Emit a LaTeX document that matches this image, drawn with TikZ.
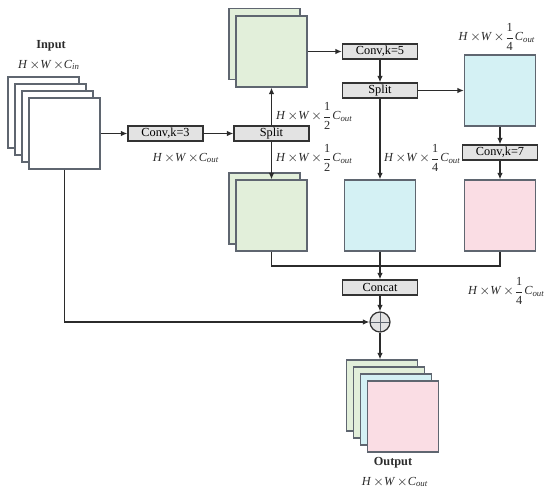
\documentclass[tikz,border=0pt]{standalone}
\usepackage{fontspec}
\setmainfont{Liberation Serif}
\usepackage{amsmath}
\usetikzlibrary{arrows.meta}
\definecolor{fmline}{HTML}{5F6670}
\definecolor{fmgreen}{HTML}{E2EFDA}
\definecolor{fmcyan}{HTML}{D4F1F4}
\definecolor{fmpink}{HTML}{FADDE4}
\definecolor{opfill}{HTML}{E3E3E3}
\definecolor{opline}{HTML}{333333}
\definecolor{ink}{HTML}{2B2B2B}
\newcommand{\dimlbl}[2]{$\textit{H}\,{\times}\textit{W}\,{\times}#1\textit{C}_{\textit{#2}}$}
\newcommand{\partof}[1]{\dfrac{\text{1}}{\text{#1}}}

\begin{document}
\begin{tikzpicture}[
    x=0.02cm, y=-0.02cm,
    every node/.style={font=\scriptsize},
    fmap/.style={rectangle, draw=fmline, line width=0.7pt, minimum width=1.42cm,
                 minimum height=1.42cm, inner sep=0pt},
    op/.style={rectangle, draw=opline, fill=opfill, line width=0.7pt, minimum width=1.5cm,
               minimum height=0.3cm, inner sep=0pt, font=\scriptsize},
    sum/.style={circle, draw=opline, fill=opfill, line width=0.7pt, minimum size=0.4cm, inner sep=0pt,
                path picture={\draw[fmline, line width=0.4pt]
                  (path picture bounding box.north) -- (path picture bounding box.south)
                  (path picture bounding box.west) -- (path picture bounding box.east);}},
    flow/.style={-{Latex[length=1.3mm, width=1.1mm]}, color=ink, line width=0.7pt},
    link/.style={color=ink, line width=0.7pt},
    lbl/.style={font=\scriptsize, color=ink, inner sep=1pt},
    head/.style={font=\scriptsize\bfseries, color=ink},
  ]
  \useasboundingbox (0,0) rectangle (550,500);

  \node[head] (inhead) at (51,46) {Input};
  \node[lbl]  (indim) at (49,65) {\dimlbl{}{in}};
  \node[fmap, fill=white] (in1) at (43.5,112.5) {};
  \node[fmap, fill=white] (in2) at (50.5,119.5) {};
  \node[fmap, fill=white] (in3) at (57.5,126.5) {};
  \node[fmap, fill=white] (in4) at (64.5,133.5) {};

  \node[op] (conv3) at (165.5,133.5) {Conv,k=3};
  \node[lbl] (conv3dim) at (186,158) {\dimlbl{}{out}};
  \node[op] (split1) at (271.5,133.5) {Split};

  \node[fmap, fill=fmgreen] (gtop1) at (264.5,44) {};
  \node[fmap, fill=fmgreen] (gtop2) at (271.5,51.5) {};
  \node[lbl, anchor=west] (updim) at (274,116) {\dimlbl{\partof{2}}{out}};
  \node[lbl, anchor=west] (downdim) at (274,158) {\dimlbl{\partof{2}}{out}};

  \node[op] (conv5) at (380,51.5) {Conv,k=5};
  \node[op] (split2) at (380,90.5) {Split};
  \node[fmap, fill=fmcyan] (ctop) at (500,90.5) {};
  \node[lbl] (ctopdim) at (497,37) {\dimlbl{\partof{4}}{out}};
  \node[op] (conv7) at (500,152.5) {Conv,k=7};
  \node[lbl, anchor=west] (quartdim) at (382,158) {\dimlbl{\partof{4}}{out}};

  \node[fmap, fill=fmgreen] (gbot1) at (264.5,208.5) {};
  \node[fmap, fill=fmgreen] (gbot2) at (271.5,215.5) {};
  \node[fmap, fill=fmcyan]  (cmid) at (380,215.5) {};
  \node[fmap, fill=fmpink]  (pink) at (500,215.5) {};

  \coordinate (join) at (380,266);
  \node[op] (concat) at (380,287.5) {Concat};
  \node[lbl, anchor=west] (catdim) at (466,291) {\dimlbl{\partof{4}}{out}};
  \node[sum] (add) at (380,322) {};

  \node[fmap, fill=fmgreen] (out1) at (382,395.5) {};
  \node[fmap, fill=fmgreen] (out2) at (389,402.5) {};
  \node[fmap, fill=fmcyan]  (out3) at (396,409.5) {};
  \node[fmap, fill=fmpink]  (out4) at (403,416.5) {};
  \node[head] (outhead) at (393,463) {Output};
  \node[lbl]  (outdim) at (395,482) {\dimlbl{}{out}};

  \draw[flow] (in4.east) -- (conv3.west);
  \draw[flow] (conv3.east) -- (split1.west);
  \draw[flow] (split1.north) -- (gtop2.south);
  \draw[flow] (split1.south) -- (gbot2.north);
  \draw[flow] (gtop2.east) -- (conv5.west);
  \draw[flow] (conv5.south) -- (split2.north);
  \draw[flow] (split2.east) -- (ctop.west);
  \draw[flow] (split2.south) -- (cmid.north);
  \draw[flow] (ctop.south) -- (conv7.north);
  \draw[flow] (conv7.south) -- (pink.north);

  \draw[link] (gbot2.south) |- (join) -| (pink.south);
  \draw[flow] (cmid.south) -- (concat.north);
  \draw[flow] (concat.south) -- (add.north);
  \draw[flow] (in4.south) |- (add.west);
  \draw[flow] (add.south) -- (add.south |- out1.north);

  \end{tikzpicture}
\end{document}
